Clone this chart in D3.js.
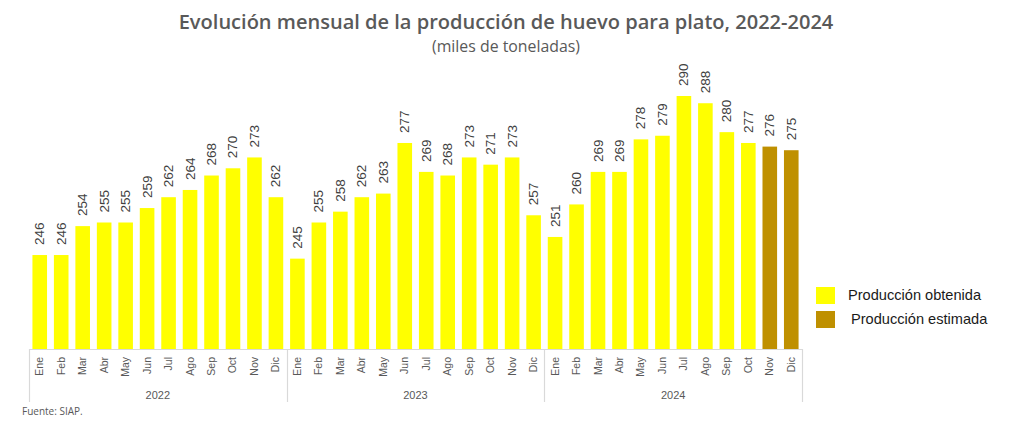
<!DOCTYPE html>
<html><head><meta charset="utf-8">
<script src="https://cdn.jsdelivr.net/npm/d3@7"></script>
<style>body{margin:0;background:#fff}svg{display:block}</style>
</head><body>
<svg id="c" width="1024" height="433"></svg>
<script>
const years = ["2022","2023","2024"];
const months = ["Ene","Feb","Mar","Abr","May","Jun","Jul","Ago","Sep","Oct","Nov","Dic"];
const values2022 = [246,246,254,255,255,259,262,264,268,270,273,262];
const values2023 = [245,255,258,262,263,277,269,268,273,271,273,257];
const values2024 = [251,260,269,269,278,279,290,288,280,277,276,275];
const estimated2024 = [false,false,false,false,false,false,false,false,false,false,true,true];
const legendLabels = ["Producción obtenida","Producción estimada"];
const colors = {obtenida:"#FFFF00", estimada:"#BF9000"};

const series = [values2022, values2023, values2024];
const data = [];
years.forEach((y,i)=>months.forEach((m,j)=>data.push({
  key:y+"-"+m, year:y, month:m, value:series[i][j],
  est: i===2 ? estimated2024[j] : false
})));

const svg = d3.select("#c");
const left = 29, right = 802, base = 349;
const x = d3.scaleBand().domain(data.map(d=>d.key)).range([left,right]).paddingInner(0.32).paddingOuter(0.16);
const y = d3.scaleLinear().domain([220,290]).range([base,96]);

function fit(sel, size, target){
  const w = sel.node().getComputedTextLength();
  sel.attr("font-size", size*target/w);
}

// title
const title = svg.append("text").attr("x",506).attr("y",29).attr("text-anchor","middle")
  .attr("font-family","'Open Sans', 'Noto Sans', sans-serif").attr("font-weight",600)
  .attr("font-size",20).attr("fill","#595959")
  .text("Evolución mensual de la producción de huevo para plato, 2022-2024");
fit(title, 20, 655);
const sub = svg.append("text").attr("x",506).attr("y",52).attr("text-anchor","middle")
  .attr("font-family","'Open Sans', 'Noto Sans', sans-serif")
  .attr("font-size",14).attr("fill","#595959").text("(miles de toneladas)");
fit(sub, 14, 148);

// bars
svg.append("g").selectAll("rect").data(data).join("rect")
  .attr("x",d=>x(d.key)).attr("width",x.bandwidth())
  .attr("y",d=>y(d.value)).attr("height",d=>base-y(d.value))
  .attr("fill",d=>d.est?colors.estimada:colors.obtenida);

// value labels
svg.append("g").selectAll("text").data(data).join("text")
  .attr("transform",d=>`translate(${x(d.key)+x.bandwidth()/2+4.5},${y(d.value)-10}) rotate(-90)`)
  .attr("font-family","'Liberation Sans', Arial, sans-serif").attr("font-size",13.5)
  .attr("fill","#404040").text(d=>d.value);

// axis
const axisColor = "#d9d9d9";
svg.append("line").attr("x1",left).attr("x2",right).attr("y1",base+0.5).attr("y2",base+0.5)
  .attr("stroke",axisColor).attr("stroke-width",1.2);
const sepX = [left, (x(data[11].key)+x.bandwidth()+x(data[12].key))/2, (x(data[23].key)+x.bandwidth()+x(data[24].key))/2, right];
svg.append("g").selectAll("line").data(sepX).join("line")
  .attr("x1",d=>Math.round(d)+0.5).attr("x2",d=>Math.round(d)+0.5).attr("y1",base).attr("y2",402)
  .attr("stroke",axisColor).attr("stroke-width",1.2);

// month labels
svg.append("g").selectAll("text").data(data).join("text")
  .attr("transform",d=>`translate(${x(d.key)+x.bandwidth()/2+3.5},357) rotate(-90)`)
  .attr("text-anchor","end")
  .attr("font-family","'Liberation Sans', Arial, sans-serif").attr("font-size",10.5)
  .attr("fill","#595959").text(d=>d.month);

// year labels
svg.append("g").selectAll("text").data(years).join("text")
  .attr("x",(d,i)=>(sepX[i]+sepX[i+1])/2).attr("y",399).attr("text-anchor","middle")
  .attr("font-family","'Liberation Sans', Arial, sans-serif").attr("font-size",11)
  .attr("fill","#595959").text(d=>d);

// legend
const lg = svg.append("g");
const legColors = [colors.obtenida, colors.estimada];
lg.selectAll("rect").data(legendLabels).join("rect")
  .attr("x",816).attr("y",(d,i)=>287+i*24).attr("width",19).attr("height",17)
  .attr("fill",(d,i)=>legColors[i]);
lg.selectAll("text").data(legendLabels).join("text")
  .attr("x",(d,i)=>848+i*3).attr("y",(d,i)=>299.5+i*24)
  .attr("font-family","'Liberation Sans', Arial, sans-serif").attr("font-size",14.6)
  .attr("fill","#1a1a1a").text(d=>d);

// source
svg.append("text").attr("x",22).attr("y",415)
  .attr("font-family","'Open Sans', sans-serif").attr("font-size",10)
  .attr("fill","#595959").text("Fuente: SIAP.");
</script>
</body></html>
